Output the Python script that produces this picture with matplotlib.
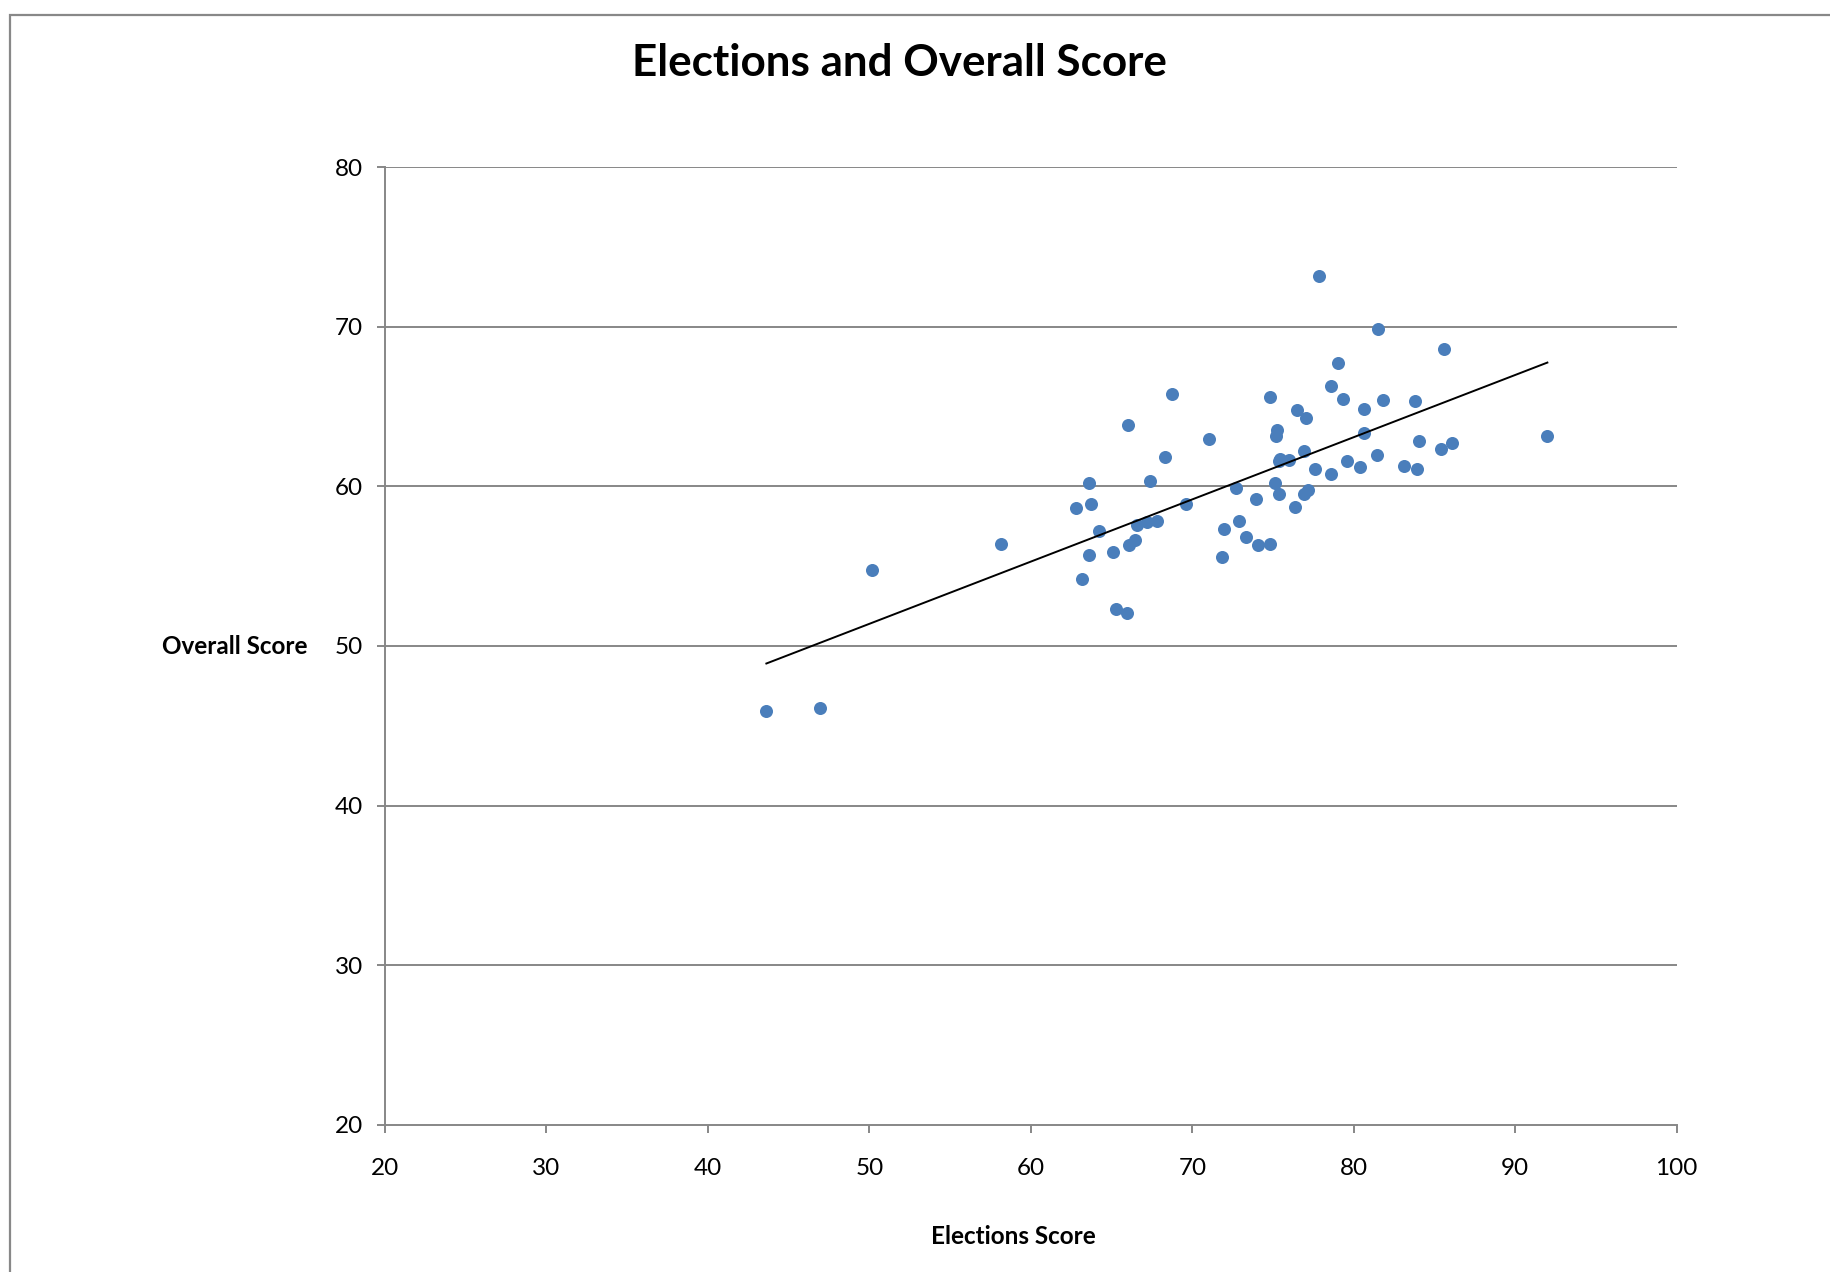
import matplotlib
matplotlib.use("Agg")
import matplotlib.pyplot as plt
import numpy as np
from matplotlib.patches import Rectangle

plt.rcParams['font.family'] = ['Lato', 'DejaVu Sans']

title = "Elections and Overall Score"
x_label = "Elections Score"
y_label = "Overall Score"

elections = [43.62, 46.96, 50.16, 58.15, 62.82, 63.17, 63.62, 63.73, 63.62, 64.24,
             65.09, 65.30, 65.97, 66.04, 66.08, 66.43, 66.57, 67.19, 67.79, 67.38,
             68.29, 68.76, 69.59, 71.02, 71.84, 71.98, 72.71, 72.89, 73.32, 73.97,
             74.09, 74.83, 74.81, 75.14, 75.20, 75.25, 75.35, 75.37, 75.45, 75.99,
             76.34, 76.48, 76.90, 76.92, 77.15, 77.02, 77.60, 77.83, 78.57, 78.59,
             79.04, 79.31, 79.56, 80.39, 80.61, 80.65, 81.42, 81.52, 81.79, 83.11,
             83.81, 83.90, 84.04, 85.38, 85.61, 86.06, 91.99]
overall = [45.93, 46.10, 54.78, 56.37, 58.63, 54.20, 60.24, 58.92, 55.68, 57.19,
           55.91, 52.32, 52.07, 63.87, 56.33, 56.64, 57.56, 57.75, 57.82, 60.36,
           61.83, 65.77, 58.90, 62.97, 55.56, 57.33, 59.90, 57.82, 56.81, 59.19,
           56.31, 56.39, 65.62, 60.22, 63.18, 63.54, 59.55, 61.59, 61.75, 61.64,
           58.71, 64.79, 62.20, 59.55, 59.76, 64.29, 61.11, 73.21, 66.27, 60.76,
           67.75, 65.48, 61.61, 61.24, 63.35, 64.85, 61.97, 69.87, 65.42, 61.26,
           65.33, 61.09, 62.85, 62.37, 68.63, 62.70, 63.16]

x_ticks = [20, 30, 40, 50, 60, 70, 80, 90, 100]
y_ticks = [20, 30, 40, 50, 60, 70, 80]

W, H = 1831, 1272
fig = plt.figure(figsize=(W / 100, H / 100), dpi=100)
fig.patch.set_facecolor('white')

# outer chart border (left and top visible)
fig.add_artist(Rectangle((10 / W, -0.05), 1.2, 1 - 15 / H + 0.05, transform=fig.transFigure,
                         fill=False, edgecolor='#888888', linewidth=1.6))

ax = fig.add_axes([385 / W, 1 - 1124.7 / H, (1676.7 - 385) / W, (1124.7 - 167.3) / H])
ax.set_xlim(20, 100)
ax.set_ylim(20, 80)
ax.set_xticks(x_ticks)
ax.set_yticks(y_ticks)

grid_c = '#878787'
for yv in y_ticks[1:]:
    ax.axhline(yv, color=grid_c, linewidth=1.4, zorder=1)

for s in ['top', 'right']:
    ax.spines[s].set_visible(False)
for s in ['left', 'bottom']:
    ax.spines[s].set_color(grid_c)
    ax.spines[s].set_linewidth(1.4)

ax.tick_params(axis='both', direction='out', length=6, width=1.4, color=grid_c,
               labelsize=17.5, labelcolor='black')
ax.tick_params(axis='x', pad=18)
ax.tick_params(axis='y', pad=10)

ax.scatter(elections, overall, s=88, color='#4a7ebb', zorder=3, linewidths=0)

xa = np.array(elections)
ya = np.array(overall)
m, b = np.polyfit(xa, ya, 1)
xl = np.array([xa.min(), xa.max()])
ax.plot(xl, m * xl + b, color='black', linewidth=1.4, zorder=4)

fig.text(899 / W, 1 - 63 / H, title, ha='center', va='center', fontsize=31.7, fontweight='bold')
fig.text(235 / W, 1 - 646 / H, y_label, ha='center', va='center', fontsize=17.5, fontweight='bold')
fig.text(1013.6 / W, 1 - 1236.6 / H, x_label, ha='center', va='center', fontsize=17.5, fontweight='bold')

fig.savefig('out.png', dpi=100, facecolor='white')
